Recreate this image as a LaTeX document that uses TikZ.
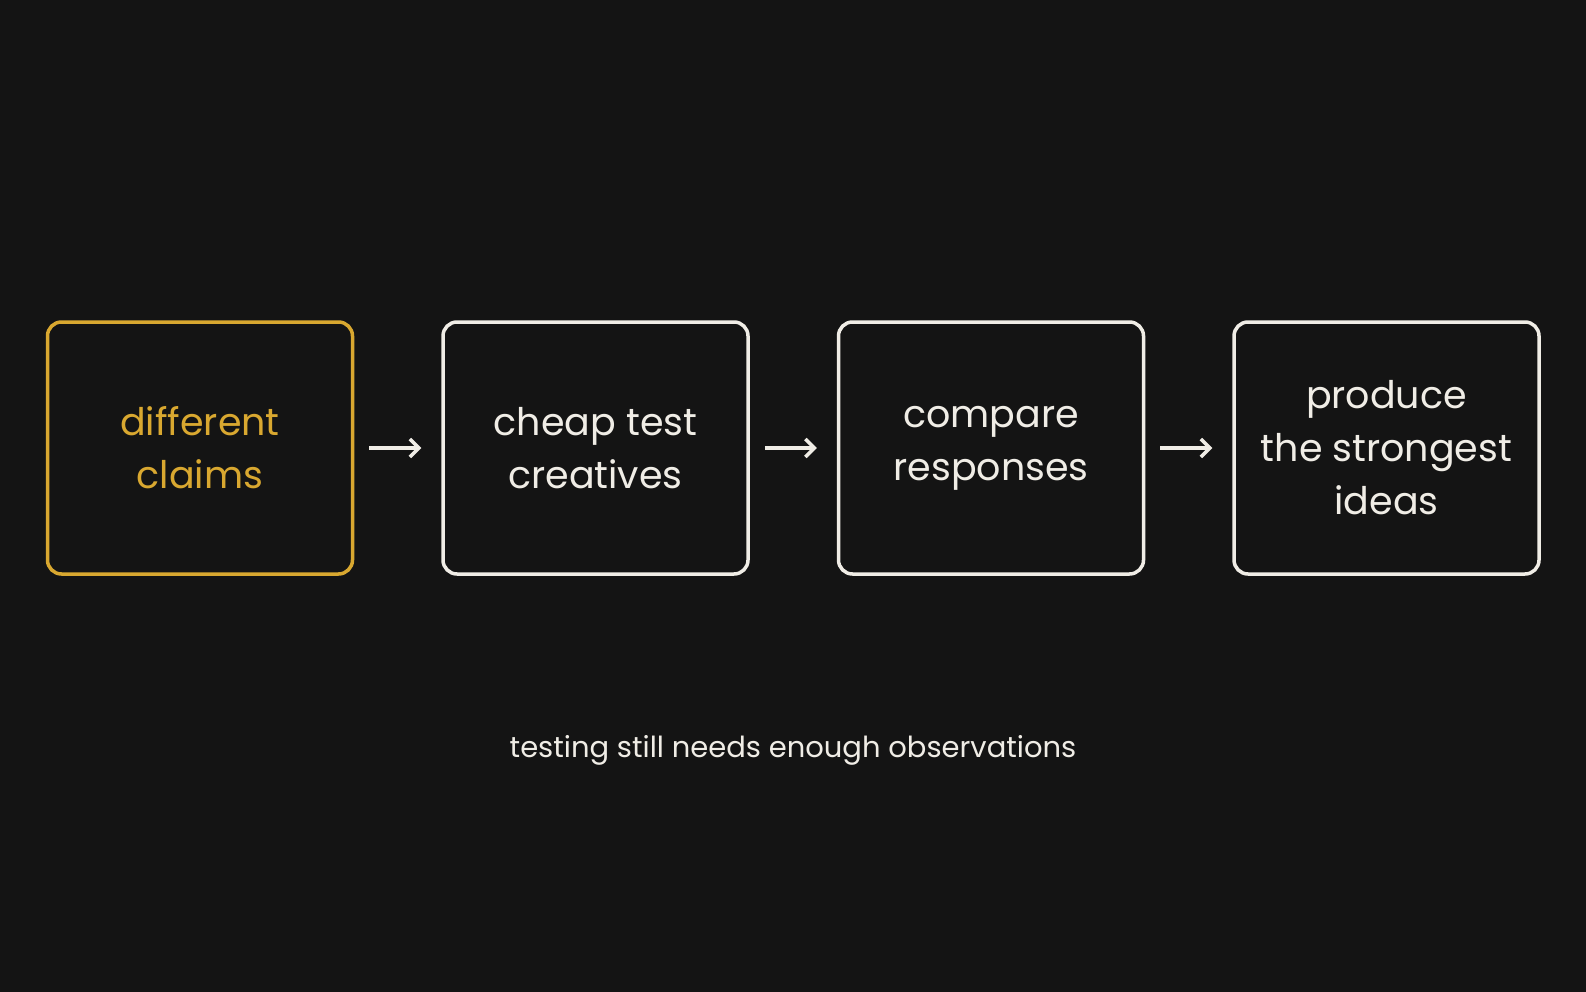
\documentclass[tikz,border=0pt]{standalone}
\usepackage{fontspec}
\setmainfont{Poppins}
\usetikzlibrary{arrows.meta}
\definecolor{bg}{HTML}{141414}
\definecolor{gold}{HTML}{D9A830}
\definecolor{wht}{HTML}{F0EDE6}
\begin{document}
\begin{tikzpicture}[x=1pt,y=-1pt,
  box/.style={draw=wht,line width=3.5pt,rounded corners=14pt,minimum width=305pt,minimum height=252pt,align=center,text=wht,font=\fontsize{38}{53}\selectfont,inner sep=0pt},
  arr/.style={draw=wht,line width=3.5pt,-{Straight Barb[length=9pt,width=18pt]}}]
\fill[bg] (0,0) rectangle (1586,992);
\node[box,draw=gold,text=gold] (a) at (200,448) {different\\claims};
\node[box] (b) at (595.5,448) {cheap test\\creatives};
\node[box] (c) at (991,448) {compare\\responses};
\node[box] (d) at (1386.5,448) {produce\\the strongest\\ideas};
\draw[arr] ([xshift=15pt]a.east) -- ([xshift=-20pt]b.west);
\draw[arr] ([xshift=15pt]b.east) -- ([xshift=-20pt]c.west);
\draw[arr] ([xshift=15pt]c.east) -- ([xshift=-20pt]d.west);
\node[text=wht,font=\fontsize{29}{35}\selectfont] (t) at (793,750) {testing still needs enough observations};
\end{tikzpicture}
\end{document}
